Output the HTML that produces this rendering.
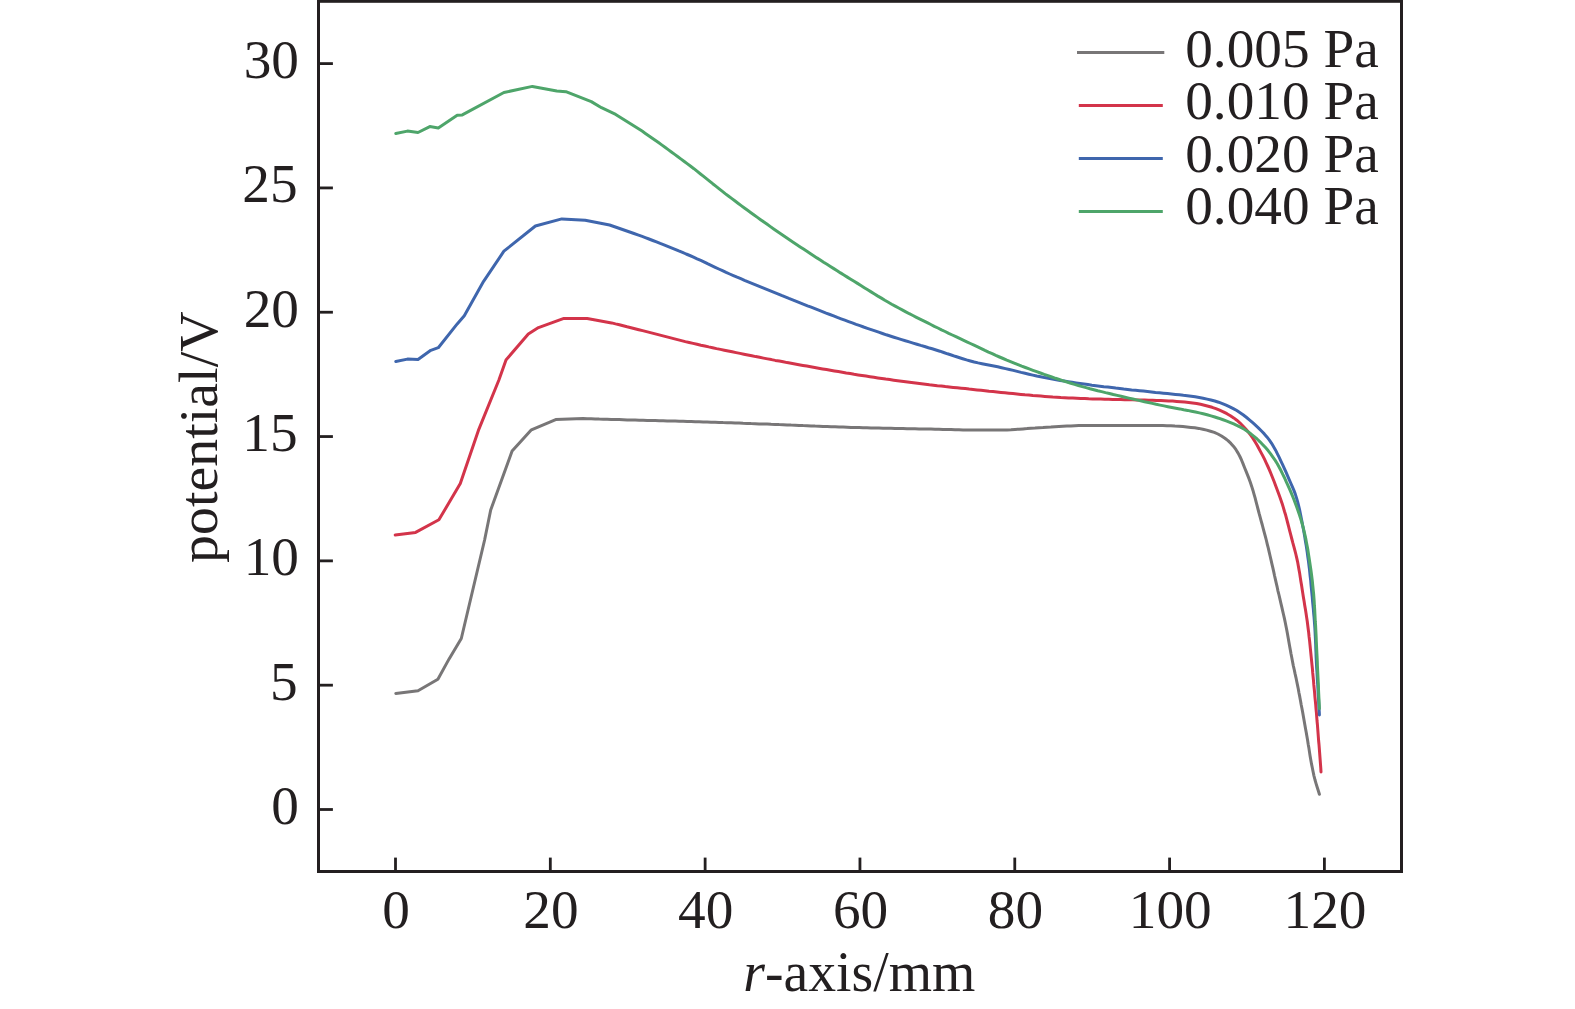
<!DOCTYPE html>
<html lang="en">
<head>
<meta charset="utf-8">
<title>potential vs r-axis</title>
<style>
html,body{margin:0;padding:0;background:#fff;}
body{width:1575px;height:1009px;overflow:hidden;}
svg{display:block;}
text{font-family:"Liberation Serif",serif;font-size:55.3px;fill:#231f20;}
.ax{stroke:#231f20;stroke-width:3;fill:none;}
.tk{stroke:#231f20;stroke-width:2.8;fill:none;}
.ln{fill:none;stroke-width:3;stroke-linejoin:round;stroke-linecap:round;}
</style>
</head>
<body>
<svg width="1575" height="1009" viewBox="0 0 1575 1009">
<rect x="0" y="0" width="1575" height="1009" fill="#fff"/>

<g id="curves">
<path class="ln" stroke="#787677" d="M395.8 693.4 L418.0 690.8 L437.9 679.2 L449.1 658.9 L461.3 638.5 L484.6 540.0 L490.7 510.0 L512.1 451.1 L531.4 429.8 L555.7 419.6 L583.2 418.6 L587.2 418.7 L591.2 418.8 L595.2 418.9 L599.2 419.1 L603.2 419.2 L607.2 419.3 L611.2 419.4 L615.2 419.5 L619.2 419.6 L623.2 419.7 L627.2 419.9 L631.2 420.0 L635.2 420.1 L639.2 420.2 L643.2 420.3 L647.2 420.4 L651.2 420.5 L655.2 420.6 L659.2 420.7 L663.2 420.8 L667.2 420.9 L671.2 421.0 L675.2 421.1 L679.2 421.2 L683.2 421.3 L687.2 421.4 L691.2 421.5 L695.2 421.7 L699.2 421.8 L703.2 421.9 L707.2 422.0 L711.1 422.2 L715.1 422.3 L719.1 422.4 L723.1 422.6 L727.1 422.7 L731.1 422.8 L735.1 423.0 L739.1 423.1 L743.1 423.3 L747.1 423.4 L751.1 423.6 L755.1 423.7 L759.1 423.9 L763.1 424.0 L767.1 424.1 L771.1 424.3 L775.1 424.4 L779.1 424.6 L783.1 424.7 L787.1 424.9 L791.1 425.1 L795.1 425.2 L799.1 425.4 L803.1 425.6 L807.1 425.7 L811.1 425.9 L815.1 426.1 L819.1 426.2 L823.1 426.4 L827.1 426.5 L831.1 426.7 L835.1 426.8 L839.1 427.0 L843.1 427.1 L847.1 427.2 L851.1 427.4 L855.1 427.5 L859.1 427.6 L863.0 427.7 L867.0 427.8 L871.0 427.9 L875.0 428.0 L879.0 428.1 L883.0 428.2 L887.0 428.2 L891.0 428.3 L895.0 428.4 L899.0 428.5 L903.0 428.6 L907.0 428.7 L911.0 428.7 L915.0 428.8 L919.0 428.9 L923.0 429.0 L927.0 429.1 L931.0 429.1 L935.0 429.2 L939.0 429.3 L943.0 429.4 L947.0 429.5 L951.0 429.6 L955.0 429.7 L959.0 429.8 L963.0 429.9 L967.0 430.0 L971.0 430.0 L975.0 430.0 L979.0 430.0 L983.0 430.0 L987.0 430.0 L991.0 430.0 L995.0 430.0 L999.0 430.0 L1003.0 430.0 L1007.0 429.9 L1011.0 429.7 L1015.0 429.4 L1019.0 429.2 L1023.0 428.9 L1027.0 428.6 L1031.0 428.2 L1035.0 428.0 L1039.0 427.7 L1043.0 427.5 L1046.9 427.2 L1050.9 427.0 L1054.9 426.7 L1058.9 426.5 L1062.9 426.3 L1066.9 426.1 L1070.9 425.9 L1074.9 425.7 L1078.9 425.6 L1082.9 425.6 L1086.9 425.6 L1090.9 425.5 L1094.9 425.5 L1098.9 425.5 L1102.9 425.4 L1106.9 425.4 L1110.9 425.4 L1114.9 425.4 L1118.9 425.4 L1122.9 425.4 L1126.9 425.4 L1130.9 425.4 L1134.9 425.4 L1138.9 425.4 L1142.9 425.5 L1146.9 425.5 L1150.9 425.5 L1154.9 425.5 L1158.9 425.6 L1162.9 425.6 L1166.9 425.7 L1170.9 425.8 L1174.9 426.1 L1178.9 426.3 L1182.9 426.6 L1186.9 427.0 L1190.9 427.4 L1194.8 427.8 L1198.8 428.4 L1202.8 429.2 L1206.7 430.1 L1210.5 431.2 L1214.3 432.4 L1217.9 434.0 L1221.5 436.0 L1224.9 438.2 L1228.0 440.6 L1230.9 443.4 L1233.6 446.4 L1236.0 449.7 L1238.1 453.1 L1239.9 456.5 L1241.6 460.2 L1243.1 463.9 L1244.6 467.7 L1246.1 471.4 L1247.6 475.1 L1249.1 478.9 L1250.4 482.6 L1251.7 486.4 L1252.9 490.2 L1254.0 494.1 L1255.1 497.9 L1256.1 501.8 L1257.1 505.7 L1258.1 509.5 L1259.1 513.4 L1260.2 517.3 L1261.2 521.1 L1262.3 525.0 L1263.3 528.9 L1264.3 532.7 L1265.4 536.6 L1266.4 540.5 L1267.3 544.3 L1268.3 548.2 L1269.2 552.1 L1270.1 556.0 L1271.0 559.9 L1271.9 563.8 L1272.8 567.7 L1273.7 571.6 L1274.5 575.5 L1275.4 579.4 L1276.3 583.3 L1277.2 587.2 L1278.0 591.1 L1279.0 595.0 L1279.9 598.9 L1280.8 602.8 L1281.7 606.7 L1282.6 610.6 L1283.5 614.5 L1284.4 618.4 L1285.2 622.3 L1286.0 626.2 L1286.8 630.2 L1287.5 634.1 L1288.2 638.0 L1288.9 642.0 L1289.6 645.9 L1290.3 649.8 L1291.0 653.8 L1291.8 657.7 L1292.5 661.6 L1293.3 665.6 L1294.2 669.5 L1295.0 673.4 L1295.9 677.3 L1296.7 681.2 L1297.5 685.1 L1298.3 689.0 L1299.0 693.0 L1299.8 696.9 L1300.5 700.8 L1301.2 704.8 L1302.0 708.7 L1302.7 712.6 L1303.4 716.6 L1304.1 720.5 L1304.8 724.4 L1305.5 728.4 L1306.2 732.3 L1306.9 736.3 L1307.6 740.2 L1308.2 744.2 L1308.9 748.1 L1309.5 752.1 L1310.1 756.0 L1310.8 760.0 L1311.5 763.9 L1312.3 767.8 L1313.1 771.7 L1313.9 775.6 L1314.9 779.5 L1316.0 783.3 L1317.2 787.2 L1318.4 791.0 L1319.4 794.2"/>
<path class="ln" stroke="#d3344a" d="M395.2 535.0 L415.6 532.4 L438.9 519.8 L460.3 483.6 L478.4 430.4 L498.9 380.0 L506.0 359.9 L528.3 334.1 L538.5 327.6 L563.9 318.4 L587.2 318.4 L611.6 322.9 L615.5 323.9 L619.4 324.8 L623.2 325.8 L627.1 326.8 L631.0 327.7 L634.9 328.7 L638.8 329.7 L642.6 330.6 L646.5 331.6 L650.4 332.6 L654.3 333.6 L658.2 334.6 L662.0 335.6 L665.9 336.6 L669.8 337.6 L673.6 338.6 L677.5 339.6 L681.4 340.6 L685.3 341.6 L689.2 342.5 L693.1 343.4 L697.0 344.3 L700.9 345.2 L704.8 346.0 L708.7 346.9 L712.6 347.7 L716.5 348.6 L720.4 349.4 L724.3 350.2 L728.2 351.0 L732.2 351.8 L736.1 352.6 L740.0 353.4 L743.9 354.2 L747.8 355.0 L751.8 355.8 L755.7 356.6 L759.6 357.3 L763.5 358.1 L767.5 358.9 L771.4 359.6 L775.3 360.4 L779.3 361.1 L783.2 361.8 L787.1 362.6 L791.1 363.3 L795.0 364.0 L798.9 364.7 L802.9 365.4 L806.8 366.1 L810.7 366.8 L814.7 367.5 L818.6 368.2 L822.6 368.9 L826.5 369.6 L830.4 370.3 L834.4 371.0 L838.3 371.6 L842.3 372.3 L846.2 373.0 L850.2 373.6 L854.1 374.3 L858.1 374.9 L862.0 375.5 L866.0 376.1 L869.9 376.7 L873.9 377.3 L877.8 377.9 L881.8 378.5 L885.7 379.1 L889.7 379.6 L893.7 380.2 L897.6 380.7 L901.6 381.2 L905.6 381.8 L909.5 382.3 L913.5 382.8 L917.5 383.3 L921.4 383.8 L925.4 384.3 L929.4 384.8 L933.3 385.2 L937.3 385.7 L941.3 386.1 L945.3 386.6 L949.2 387.0 L953.2 387.4 L957.2 387.8 L961.2 388.2 L965.2 388.6 L969.1 389.1 L973.1 389.5 L977.1 389.9 L981.1 390.3 L985.1 390.7 L989.0 391.2 L993.0 391.6 L997.0 392.0 L1001.0 392.4 L1004.9 392.8 L1008.9 393.2 L1012.9 393.6 L1016.9 394.0 L1020.9 394.4 L1024.9 394.8 L1028.8 395.1 L1032.8 395.5 L1036.8 395.8 L1040.8 396.1 L1044.8 396.4 L1048.8 396.7 L1052.8 397.0 L1056.8 397.2 L1060.8 397.5 L1064.7 397.7 L1068.7 397.9 L1072.7 398.1 L1076.7 398.3 L1080.7 398.5 L1084.7 398.6 L1088.7 398.8 L1092.7 398.9 L1096.7 399.0 L1100.7 399.1 L1104.7 399.2 L1108.7 399.3 L1112.7 399.4 L1116.7 399.5 L1120.7 399.6 L1124.7 399.7 L1128.7 399.8 L1132.7 399.8 L1136.7 399.9 L1140.7 400.0 L1144.7 400.1 L1148.7 400.2 L1152.7 400.3 L1156.7 400.4 L1160.7 400.5 L1164.7 400.7 L1168.7 400.9 L1172.7 401.1 L1176.7 401.4 L1180.7 401.7 L1184.7 402.1 L1188.7 402.5 L1192.6 403.0 L1196.6 403.5 L1200.5 404.3 L1204.4 405.2 L1208.3 406.2 L1212.1 407.3 L1215.9 408.6 L1219.6 410.1 L1223.3 411.8 L1226.9 413.7 L1230.4 415.7 L1233.7 417.9 L1236.8 420.2 L1239.8 422.8 L1242.7 425.7 L1245.5 428.7 L1248.1 431.8 L1250.5 434.9 L1252.8 438.1 L1254.9 441.5 L1257.0 445.0 L1258.9 448.5 L1260.8 452.1 L1262.7 455.6 L1264.5 459.2 L1266.2 462.8 L1267.9 466.5 L1269.5 470.1 L1271.0 473.8 L1272.5 477.5 L1274.0 481.3 L1275.4 485.0 L1276.8 488.7 L1278.2 492.5 L1279.6 496.3 L1280.9 500.0 L1282.2 503.8 L1283.4 507.6 L1284.5 511.5 L1285.7 515.3 L1286.7 519.2 L1287.7 523.0 L1288.7 526.9 L1289.7 530.8 L1290.7 534.7 L1291.7 538.5 L1292.7 542.4 L1293.8 546.3 L1294.8 550.1 L1295.8 554.0 L1296.7 557.9 L1297.6 561.8 L1298.3 565.7 L1299.0 569.7 L1299.7 573.6 L1300.3 577.6 L1300.9 581.5 L1301.6 585.5 L1302.2 589.4 L1302.8 593.4 L1303.4 597.3 L1304.1 601.3 L1304.7 605.2 L1305.4 609.2 L1306.0 613.1 L1306.6 617.1 L1307.2 621.0 L1307.7 625.0 L1308.2 629.0 L1308.7 632.9 L1309.1 636.9 L1309.6 640.9 L1310.0 644.9 L1310.4 648.8 L1310.8 652.8 L1311.2 656.8 L1311.6 660.8 L1312.0 664.8 L1312.4 668.7 L1312.7 672.7 L1313.1 676.7 L1313.5 680.7 L1313.8 684.7 L1314.2 688.7 L1314.6 692.6 L1314.9 696.6 L1315.3 700.6 L1315.7 704.6 L1316.0 708.6 L1316.4 712.6 L1316.7 716.6 L1317.0 720.5 L1317.4 724.5 L1317.7 728.5 L1318.0 732.5 L1318.3 736.5 L1318.6 740.5 L1319.0 744.5 L1319.3 748.4 L1319.6 752.4 L1319.9 756.4 L1320.2 760.4 L1320.5 764.4 L1320.8 768.4 L1321.0 771.9"/>
<path class="ln" stroke="#3f66ad" d="M395.8 361.5 L407.4 359.1 L418.0 359.5 L430.8 350.3 L438.3 347.7 L457.2 323.9 L464.3 315.8 L483.6 281.3 L503.9 251.2 L535.4 226.0 L561.8 218.9 L585.2 220.3 L609.6 225.0 L634.0 233.5 L637.8 234.9 L641.5 236.2 L645.3 237.6 L649.0 239.0 L652.8 240.5 L656.5 241.9 L660.2 243.4 L664.0 244.8 L667.7 246.3 L671.4 247.8 L675.1 249.3 L678.8 250.9 L682.5 252.4 L686.1 254.0 L689.8 255.5 L693.5 257.1 L697.1 258.8 L700.8 260.4 L704.4 262.1 L708.0 263.9 L711.6 265.6 L715.2 267.3 L718.8 269.0 L722.5 270.7 L726.1 272.4 L729.7 274.0 L733.4 275.6 L737.1 277.2 L740.8 278.7 L744.5 280.3 L748.2 281.8 L751.9 283.3 L755.6 284.8 L759.3 286.3 L763.0 287.8 L766.7 289.3 L770.4 290.8 L774.1 292.3 L777.8 293.8 L781.5 295.4 L785.2 296.9 L788.9 298.4 L792.6 299.8 L796.4 301.3 L800.1 302.8 L803.8 304.3 L807.5 305.8 L811.2 307.2 L814.9 308.7 L818.7 310.2 L822.4 311.6 L826.1 313.1 L829.9 314.5 L833.6 315.9 L837.3 317.4 L841.1 318.8 L844.8 320.2 L848.6 321.6 L852.3 322.9 L856.1 324.3 L859.9 325.6 L863.6 327.0 L867.4 328.3 L871.2 329.6 L875.0 330.9 L878.7 332.2 L882.5 333.5 L886.3 334.8 L890.1 336.0 L893.9 337.2 L897.7 338.4 L901.6 339.6 L905.4 340.8 L909.2 341.9 L913.1 343.1 L916.9 344.2 L920.7 345.4 L924.6 346.5 L928.4 347.7 L932.2 348.8 L936.0 350.0 L939.9 351.2 L943.7 352.5 L947.5 353.8 L951.3 355.0 L955.1 356.3 L958.9 357.5 L962.7 358.7 L966.5 359.9 L970.4 361.0 L974.2 362.0 L978.1 362.9 L982.0 363.7 L985.9 364.5 L989.9 365.3 L993.8 366.0 L997.7 366.8 L1001.6 367.7 L1005.5 368.6 L1009.4 369.5 L1013.3 370.4 L1017.2 371.4 L1021.1 372.4 L1025.0 373.3 L1028.9 374.2 L1032.8 375.1 L1036.7 376.0 L1040.6 376.8 L1044.5 377.6 L1048.4 378.3 L1052.4 379.0 L1056.3 379.7 L1060.2 380.4 L1064.2 381.1 L1068.1 381.7 L1072.1 382.3 L1076.1 382.9 L1080.0 383.5 L1084.0 384.1 L1087.9 384.6 L1091.9 385.2 L1095.9 385.7 L1099.8 386.2 L1103.8 386.7 L1107.8 387.1 L1111.7 387.6 L1115.7 388.1 L1119.7 388.5 L1123.7 389.0 L1127.6 389.4 L1131.6 389.9 L1135.6 390.3 L1139.6 390.7 L1143.5 391.1 L1147.5 391.5 L1151.5 391.9 L1155.5 392.4 L1159.5 392.8 L1163.4 393.2 L1167.4 393.6 L1171.4 394.0 L1175.4 394.4 L1179.4 394.8 L1183.4 395.3 L1187.3 395.7 L1191.3 396.3 L1195.2 396.8 L1199.2 397.5 L1203.1 398.2 L1207.1 399.1 L1210.9 400.0 L1214.8 401.0 L1218.6 402.2 L1222.4 403.6 L1226.1 405.1 L1229.8 406.8 L1233.3 408.6 L1236.8 410.5 L1240.1 412.7 L1243.4 415.0 L1246.6 417.5 L1249.7 420.1 L1252.7 422.7 L1255.7 425.4 L1258.6 428.1 L1261.5 431.0 L1264.3 433.9 L1266.9 436.9 L1269.4 440.1 L1271.6 443.3 L1273.6 446.7 L1275.6 450.2 L1277.4 453.8 L1279.2 457.4 L1280.9 461.1 L1282.6 464.7 L1284.3 468.3 L1285.9 471.9 L1287.5 475.6 L1289.1 479.3 L1290.7 483.0 L1292.3 486.7 L1293.9 490.4 L1295.3 494.1 L1296.5 497.9 L1297.6 501.7 L1298.6 505.6 L1299.5 509.4 L1300.3 513.4 L1301.1 517.3 L1301.9 521.2 L1302.6 525.2 L1303.4 529.1 L1304.1 533.1 L1304.8 537.0 L1305.4 540.9 L1306.1 544.9 L1306.7 548.9 L1307.3 552.8 L1307.8 556.8 L1308.4 560.7 L1308.9 564.7 L1309.4 568.7 L1309.8 572.6 L1310.2 576.6 L1310.7 580.6 L1311.0 584.6 L1311.4 588.6 L1311.8 592.6 L1312.2 596.5 L1312.5 600.5 L1312.9 604.5 L1313.3 608.5 L1313.6 612.5 L1314.0 616.5 L1314.3 620.4 L1314.6 624.4 L1314.9 628.4 L1315.1 632.4 L1315.3 636.4 L1315.5 640.4 L1315.7 644.4 L1315.8 648.4 L1316.0 652.4 L1316.1 656.4 L1316.3 660.4 L1316.5 664.4 L1316.7 668.4 L1317.0 672.4 L1317.2 676.4 L1317.4 680.4 L1317.7 684.3 L1317.9 688.3 L1318.1 692.3 L1318.4 696.3 L1318.6 700.3 L1318.8 704.3 L1319.0 708.3 L1319.3 712.3 L1319.4 714.9"/>
<path class="ln" stroke="#4ea56a" d="M395.8 133.5 L407.4 131.1 L418.0 132.5 L429.8 126.6 L438.3 127.9 L457.2 115.3 L462.3 114.9 L503.9 92.5 L532.4 86.4 L556.8 90.9 L565.9 91.7 L591.3 101.6 L601.5 107.7 L615.7 114.4 L642.1 131.1 L645.4 133.4 L648.7 135.7 L651.9 138.0 L655.2 140.3 L658.5 142.6 L661.7 144.9 L665.0 147.3 L668.2 149.6 L671.4 152.0 L674.7 154.4 L677.9 156.7 L681.1 159.1 L684.3 161.5 L687.5 163.9 L690.7 166.3 L693.9 168.7 L697.0 171.2 L700.2 173.7 L703.3 176.2 L706.4 178.6 L709.5 181.1 L712.7 183.7 L715.8 186.1 L718.9 188.6 L722.1 191.1 L725.2 193.6 L728.4 196.0 L731.6 198.4 L734.8 200.8 L738.0 203.2 L741.2 205.6 L744.4 208.0 L747.6 210.3 L750.9 212.7 L754.1 215.0 L757.4 217.4 L760.6 219.7 L763.9 222.0 L767.2 224.3 L770.4 226.6 L773.7 228.9 L777.0 231.2 L780.3 233.4 L783.6 235.7 L786.9 238.0 L790.2 240.2 L793.5 242.4 L796.9 244.7 L800.2 246.9 L803.5 249.1 L806.9 251.3 L810.2 253.5 L813.6 255.7 L816.9 257.9 L820.3 260.0 L823.6 262.2 L827.0 264.3 L830.4 266.5 L833.8 268.6 L837.2 270.7 L840.5 272.9 L843.9 275.0 L847.3 277.1 L850.7 279.2 L854.1 281.3 L857.5 283.4 L860.9 285.5 L864.3 287.7 L867.7 289.8 L871.1 291.9 L874.5 294.0 L877.9 296.1 L881.4 298.1 L884.8 300.2 L888.3 302.2 L891.7 304.2 L895.2 306.1 L898.7 308.0 L902.2 309.9 L905.8 311.8 L909.3 313.7 L912.9 315.5 L916.4 317.3 L920.0 319.1 L923.6 320.9 L927.2 322.7 L930.8 324.5 L934.3 326.3 L937.9 328.0 L941.5 329.8 L945.1 331.5 L948.7 333.3 L952.3 335.0 L955.9 336.7 L959.6 338.4 L963.2 340.1 L966.8 341.8 L970.4 343.5 L974.0 345.2 L977.7 346.9 L981.3 348.6 L984.9 350.4 L988.5 352.1 L992.2 353.7 L995.8 355.4 L999.5 357.0 L1003.1 358.5 L1006.8 360.1 L1010.5 361.6 L1014.2 363.1 L1018.0 364.6 L1021.7 366.1 L1025.4 367.5 L1029.2 368.9 L1032.9 370.3 L1036.7 371.7 L1040.4 373.0 L1044.2 374.4 L1048.0 375.7 L1051.8 377.0 L1055.5 378.3 L1059.3 379.5 L1063.2 380.8 L1067.0 382.0 L1070.8 383.2 L1074.6 384.4 L1078.4 385.5 L1082.3 386.6 L1086.1 387.6 L1090.0 388.7 L1093.9 389.7 L1097.7 390.7 L1101.6 391.6 L1105.5 392.6 L1109.4 393.5 L1113.3 394.5 L1117.2 395.4 L1121.1 396.3 L1125.0 397.2 L1128.9 398.1 L1132.8 399.0 L1136.7 399.9 L1140.6 400.8 L1144.5 401.7 L1148.4 402.5 L1152.3 403.4 L1156.2 404.3 L1160.1 405.1 L1164.0 405.9 L1167.9 406.7 L1171.9 407.5 L1175.8 408.2 L1179.8 408.9 L1183.7 409.7 L1187.6 410.4 L1191.5 411.2 L1195.5 412.0 L1199.4 412.9 L1203.2 413.8 L1207.1 414.8 L1211.0 415.9 L1214.8 417.0 L1218.6 418.2 L1222.4 419.5 L1226.2 420.9 L1229.9 422.3 L1233.7 423.9 L1237.3 425.6 L1240.9 427.4 L1244.3 429.3 L1247.6 431.4 L1250.8 433.8 L1254.0 436.4 L1257.1 439.0 L1260.0 441.8 L1262.8 444.7 L1265.5 447.6 L1268.1 450.6 L1270.6 453.8 L1272.9 457.1 L1275.2 460.4 L1277.3 463.8 L1279.2 467.2 L1281.1 470.8 L1282.8 474.4 L1284.6 478.0 L1286.2 481.7 L1287.9 485.3 L1289.5 488.9 L1291.1 492.6 L1292.6 496.3 L1294.1 500.0 L1295.5 503.8 L1296.9 507.6 L1298.2 511.3 L1299.5 515.1 L1300.7 518.9 L1301.9 522.8 L1303.0 526.6 L1303.9 530.5 L1304.8 534.4 L1305.7 538.3 L1306.4 542.2 L1307.2 546.2 L1307.9 550.1 L1308.5 554.1 L1309.1 558.0 L1309.7 562.0 L1310.3 565.9 L1310.9 569.9 L1311.4 573.8 L1311.9 577.8 L1312.4 581.8 L1312.8 585.8 L1313.2 589.8 L1313.6 593.7 L1313.9 597.7 L1314.2 601.7 L1314.4 605.7 L1314.7 609.7 L1314.9 613.7 L1315.1 617.7 L1315.3 621.7 L1315.6 625.7 L1315.8 629.7 L1316.0 633.7 L1316.2 637.7 L1316.3 641.6 L1316.5 645.6 L1316.7 649.6 L1316.9 653.6 L1317.1 657.6 L1317.3 661.6 L1317.4 665.6 L1317.6 669.6 L1317.8 673.6 L1318.0 677.6 L1318.2 681.6 L1318.4 685.6 L1318.5 689.6 L1318.7 693.6 L1318.9 697.6 L1319.1 701.6 L1319.3 705.6 L1319.4 708.6"/>
</g>
<rect class="ax" x="318.5" y="1.3" width="1083.0" height="870.2"/>
<g id="ticks">
<line class="tk" x1="395.50" y1="870.0" x2="395.50" y2="857.6"/>
<line class="tk" x1="550.32" y1="870.0" x2="550.32" y2="857.6"/>
<line class="tk" x1="705.13" y1="870.0" x2="705.13" y2="857.6"/>
<line class="tk" x1="859.95" y1="870.0" x2="859.95" y2="857.6"/>
<line class="tk" x1="1014.77" y1="870.0" x2="1014.77" y2="857.6"/>
<line class="tk" x1="1169.58" y1="870.0" x2="1169.58" y2="857.6"/>
<line class="tk" x1="1324.40" y1="870.0" x2="1324.40" y2="857.6"/>
<line class="tk" x1="320.0" y1="809.50" x2="332.9" y2="809.50"/>
<line class="tk" x1="320.0" y1="685.18" x2="332.9" y2="685.18"/>
<line class="tk" x1="320.0" y1="560.87" x2="332.9" y2="560.87"/>
<line class="tk" x1="320.0" y1="436.55" x2="332.9" y2="436.55"/>
<line class="tk" x1="320.0" y1="312.23" x2="332.9" y2="312.23"/>
<line class="tk" x1="320.0" y1="187.92" x2="332.9" y2="187.92"/>
<line class="tk" x1="320.0" y1="63.60" x2="332.9" y2="63.60"/>
</g>
<g id="xlabels">
<text transform="translate(396.1 927.5) scale(1 1.01)" text-anchor="middle">0</text>
<text transform="translate(550.9 927.5) scale(1 1.01)" text-anchor="middle">20</text>
<text transform="translate(705.7 927.5) scale(1 1.01)" text-anchor="middle">40</text>
<text transform="translate(860.6 927.5) scale(1 1.01)" text-anchor="middle">60</text>
<text transform="translate(1015.4 927.5) scale(1 1.01)" text-anchor="middle">80</text>
<text transform="translate(1170.2 927.5) scale(1 1.01)" text-anchor="middle">100</text>
<text transform="translate(1325.0 927.5) scale(1 1.01)" text-anchor="middle">120</text>
</g>
<g id="ylabels">
<text transform="translate(299.0 824.0) scale(1 1.01)" text-anchor="end">0</text>
<text transform="translate(297.6 699.7) scale(1 1.01)" text-anchor="end">5</text>
<text transform="translate(299.0 575.4) scale(1 1.01)" text-anchor="end">10</text>
<text transform="translate(297.6 451.1) scale(1 1.01)" text-anchor="end">15</text>
<text transform="translate(299.0 326.7) scale(1 1.01)" text-anchor="end">20</text>
<text transform="translate(297.6 202.4) scale(1 1.01)" text-anchor="end">25</text>
<text transform="translate(299.0 78.1) scale(1 1.01)" text-anchor="end">30</text>
</g>
<text transform="translate(859.3 990.8) scale(1 1.03)" text-anchor="middle" style="font-size:55.7px"><tspan font-style="italic">r</tspan>-axis/mm</text>
<text transform="translate(217.2 437.2) rotate(-90)" text-anchor="middle" style="font-size:55.9px">potential/V</text>
<g id="legend">
<line x1="1077.0" y1="52.5" x2="1164.3" y2="52.5" stroke="#787677" stroke-width="3"/>
<text transform="translate(1185.2 67.0) scale(1 1.01)" text-anchor="start">0.005 Pa</text>
<line x1="1078.8" y1="105.4" x2="1162.8" y2="105.4" stroke="#d3344a" stroke-width="3"/>
<text transform="translate(1185.2 119.0) scale(1 1.01)" text-anchor="start">0.010 Pa</text>
<line x1="1078.8" y1="158.4" x2="1162.8" y2="158.4" stroke="#3f66ad" stroke-width="3"/>
<text transform="translate(1185.2 171.6) scale(1 1.01)" text-anchor="start">0.020 Pa</text>
<line x1="1078.8" y1="211.4" x2="1162.8" y2="211.4" stroke="#4ea56a" stroke-width="3"/>
<text transform="translate(1185.2 223.9) scale(1 1.01)" text-anchor="start">0.040 Pa</text>
</g>
</svg>
</body>
</html>
